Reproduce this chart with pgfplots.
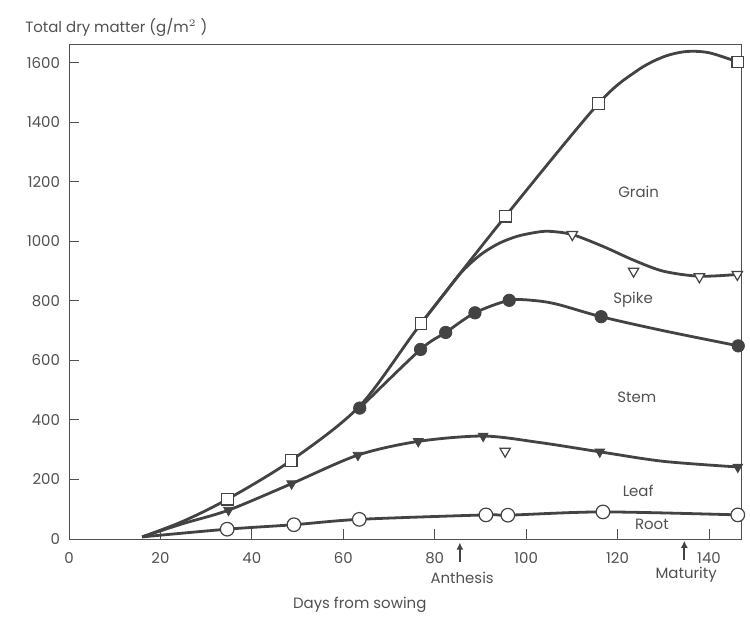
\documentclass[border=0pt]{standalone}
\usepackage{fontspec}
\setmainfont{Poppins}
\usepackage{pgfplots}
\pgfplotsset{compat=1.18}
\usetikzlibrary{arrows.meta}
\definecolor{ink}{HTML}{434343}
\definecolor{txt}{HTML}{505050}
\begin{document}
\begin{tikzpicture}
\useasboundingbox (-34.5bp,-40.5bp) rectangle (340.5bp,269.5bp);
\begin{axis}[
  width=336bp, height=247bp, scale only axis,
  xmin=0, xmax=147, ymin=0, ymax=1660,
  axis line style={draw=txt, line width=0.5bp},
  xtick={0,20,...,140}, ytick={0,200,...,1600},
  tick align=inside, xtick pos=bottom, ytick pos=left,
  major tick length=5bp,
  tick style={draw=txt, line width=0.5bp},
  tick label style={font=\fontsize{7.5}{9}\selectfont, text=txt},
  /pgf/number format/1000 sep={},
  /pgf/number format/assume math mode=true,
  xticklabel style={yshift=-3bp},
  yticklabel style={xshift=-1bp},
  clip=false,
  every axis plot/.append style={line width=1.4bp, draw=ink},
]
% curves
\addplot[smooth, tension=0.5] coordinates {
 (16,7) (25,60) (34.7,134) (48.6,264) (63.6,447) (77,724) (95.5,1085)
 (115.8,1463) (124.2,1573) (130,1620) (135,1638) (140,1634) (146.3,1603)};
\addplot[smooth, tension=0.5] coordinates {
 (77,724) (82,822) (86,899) (90,955) (94,993) (98,1017) (102,1030) (105,1034) (110.1,1023)
 (117,982) (123.5,937) (130,900) (137.9,883) (146.3,889)};
\addplot[smooth, tension=0.5] coordinates {
 (63.6,440) (76.9,637) (82.4,694) (88.8,760) (96.3,802) (102,801) (107,788)
 (116.4,747) (130,700) (146.4,649)};
\addplot[smooth, tension=0.5] coordinates {
 (16,7) (25,52) (34.9,97) (48.7,186) (63.2,282) (76.4,328) (90.6,346)
 (102.6,325) (116.1,293) (130,261) (146.3,242)};
\addplot[smooth, tension=0.5] coordinates {
 (16,7) (34.6,33) (49.2,48) (63.5,66) (91.2,81) (96,80) (116.8,91) (146.3,81)};
% markers
\addplot[only marks, mark=square*, mark size=2.9bp, mark options={fill=white, draw=ink, line width=0.6bp}] coordinates {
 (34.7,134) (48.6,264) (77,724) (95.5,1085) (115.8,1463) (146.3,1603)};
\addplot[only marks, mark=triangle*, mark size=3bp, mark options={rotate=180, fill=white, draw=ink, line width=0.6bp}] coordinates {
 (110.1,1023) (123.5,900) (137.9,881) (146.2,889) (95.4,295)};
\addplot[only marks, mark=*, mark size=3.1bp, mark options={fill=ink, draw=ink, line width=0.4bp}] coordinates {
 (63.6,440) (76.9,637) (82.4,694) (88.8,760) (96.3,802) (116.4,747) (146.4,649)};
\addplot[only marks, mark=triangle*, mark size=2.8bp, mark options={rotate=180, fill=ink, draw=ink, line width=0.4bp}] coordinates {
 (34.9,97) (48.7,186) (63.2,282) (76.4,328) (90.6,346) (116.1,293) (146.3,242)};
\addplot[only marks, mark=*, mark size=3.4bp, mark options={fill=white, draw=ink, line width=0.6bp}] coordinates {
 (34.6,33) (49.2,48) (63.5,66) (91.2,81) (96,80) (116.8,91) (146.3,81)};
% labels
\begin{scope}[every node/.style={font=\fontsize{7.5}{9}\selectfont, text=txt}]
\node at (axis cs:124.6,1166) {Grain};
\node at (axis cs:123.4,803) {Spike};
\node at (axis cs:124.2,477) {Stem};
\node at (axis cs:124.5,161) {Leaf};
\node at (axis cs:127.5,50) {Root};
\node at (axis cs:86,-131) {Anthesis};
\node at (axis cs:135,-121) {Maturity};
\node at (axis cs:63.6,-222) {Days from sowing};
\node[anchor=west] at (axis cs:-11.1,1718) {Total dry matter (g/m$^{2}$ )};
\end{scope}
\draw[ink, line width=1.1bp, -{Latex[length=3.5bp,width=3.5bp]}] (axis cs:85.5,-78) -- (axis cs:85.5,-12);
\draw[ink, line width=1.1bp, -{Latex[length=3.5bp,width=3.5bp]}] (axis cs:134.6,-70) -- (axis cs:134.6,-6);
\end{axis}
\end{tikzpicture}
\end{document}
